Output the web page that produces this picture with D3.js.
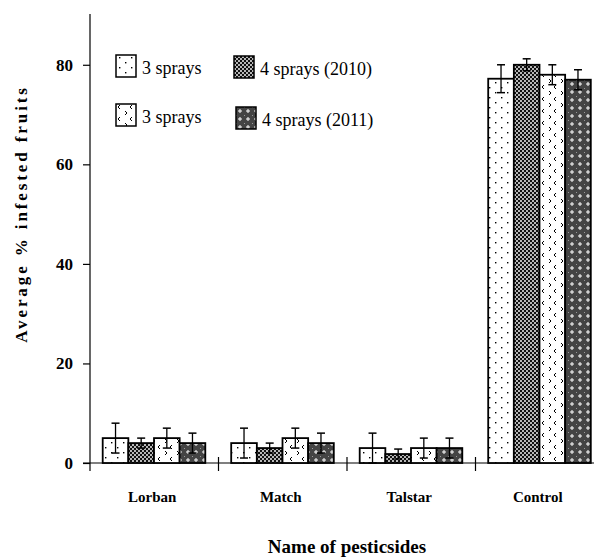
<!DOCTYPE html>
<html>
<head>
<meta charset="utf-8">
<script src="https://cdn.jsdelivr.net/npm/d3@7"></script>
<style>
  body { margin: 0; background: #fff; }
</style>
</head>
<body>
<div id="chart-area"></div>
<script>
// dados
const categories = ["Lorban", "Match", "Talstar", "Control"]
const seriesNames = ["3 sprays", "4 sprays (2010)", "3 sprays", "4 sprays (2011)"]
const means = [
  [5, 4, 3, 77.2],
  [4, 3, 1.8, 80],
  [5, 5, 3, 78],
  [4, 4, 3, 77]
]
const errors = [
  [3, 3, 3, 2.8],
  [1, 1, 1, 1.2],
  [2, 2, 2, 2],
  [2, 2, 2, 2]
]
const yTicks = [0, 20, 40, 60, 80]
const patternIds = ["p-dots", "p-cross", "p-chev", "p-plus"]

const FONT = "Liberation Serif, DejaVu Serif"
const W = 594, H = 557
const svg = d3.select("#chart-area").append("svg")
  .attr("width", W)
  .attr("height", H)
  .style("font-family", FONT)

// padrões de preenchimento
const defs = svg.append("defs")

const pDots = defs.append("pattern").attr("id", "p-dots")
  .attr("patternUnits", "userSpaceOnUse").attr("width", 12).attr("height", 10)
pDots.append("rect").attr("width", 12).attr("height", 10).attr("fill", "#fff")
pDots.append("rect").attr("x", 3).attr("y", 2).attr("width", 1.4).attr("height", 1.4).attr("fill", "#000")
pDots.append("rect").attr("x", 9).attr("y", 7).attr("width", 1.4).attr("height", 1.4).attr("fill", "#000")

const pCross = defs.append("pattern").attr("id", "p-cross")
  .attr("patternUnits", "userSpaceOnUse").attr("width", 4).attr("height", 4)
pCross.append("rect").attr("width", 4).attr("height", 4).attr("fill", "#111")
pCross.append("circle").attr("cx", 1).attr("cy", 1).attr("r", 0.95).attr("fill", "#fff")
pCross.append("circle").attr("cx", 3).attr("cy", 3).attr("r", 0.95).attr("fill", "#fff")

const pChev = defs.append("pattern").attr("id", "p-chev")
  .attr("patternUnits", "userSpaceOnUse").attr("width", 12).attr("height", 12)
pChev.append("rect").attr("width", 12).attr("height", 12).attr("fill", "#fff")
pChev.append("path").attr("d", "M4,1 L2,3 L4,5 M9,7 L11,9 L9,11")
  .attr("fill", "none").attr("stroke", "#000").attr("stroke-width", 1)

const pPlus = defs.append("pattern").attr("id", "p-plus")
  .attr("patternUnits", "userSpaceOnUse").attr("width", 8).attr("height", 8)
pPlus.append("rect").attr("width", 8).attr("height", 8).attr("fill", "#444")
pPlus.append("rect").attr("x", 0).attr("y", 0).attr("width", 1).attr("height", 1).attr("fill", "#999")
pPlus.append("path").attr("d", "M4,2 V6 M2,4 H6")
  .attr("stroke", "#fff").attr("stroke-width", 1)

// escalas
const x = d3.scaleBand()
  .domain(categories)
  .range([90, 604])
  .padding(0)

const xs = d3.scaleBand()
  .domain(d3.range(seriesNames.length))
  .range([12.7, 115.3])
  .padding(0)

const y = d3.scaleLinear()
  .domain([0, 90])
  .range([463, 15])

// eixo Y
const yAxis = svg.append("g")
  .attr("transform", "translate(90,0)")
  .call(d3.axisLeft(y).tickValues(yTicks).tickSize(7).tickPadding(10))
  .attr("font-family", null)
yAxis.select(".domain").remove()
yAxis.selectAll("line").attr("stroke", "#000").attr("stroke-width", 1.2)
yAxis.selectAll("text")
  .attr("font-size", "17px")
  .attr("font-weight", "bold")
  .attr("fill", "#000")

svg.append("line")
  .attr("x1", 90).attr("x2", 90)
  .attr("y1", 14).attr("y2", 471)
  .attr("stroke", "#000").attr("stroke-width", 1.2)

// eixo X
svg.append("line")
  .attr("x1", 83).attr("x2", W)
  .attr("y1", y(0)).attr("y2", y(0))
  .attr("stroke", "#000").attr("stroke-width", 1.2)

svg.selectAll(".xtick")
  .data(categories.slice(1))
  .enter().append("line")
  .attr("class", "xtick")
  .attr("x1", d => x(d)).attr("x2", d => x(d))
  .attr("y1", y(0) - 6).attr("y2", y(0) + 8)
  .attr("stroke", "#000").attr("stroke-width", 1.2)

svg.selectAll(".xlabel")
  .data(categories)
  .enter().append("text")
  .attr("class", "xlabel")
  .attr("x", d => x(d) + x.bandwidth() / 2 - 2)
  .attr("y", 502)
  .attr("text-anchor", "middle")
  .attr("font-size", "15px")
  .attr("font-weight", "bold")
  .text(d => d)

// títulos
svg.append("text")
  .attr("x", 347)
  .attr("y", 553)
  .attr("text-anchor", "middle")
  .attr("font-size", "19px")
  .attr("font-weight", "bold")
  .text("Name of pesticsides")

svg.append("text")
  .attr("transform", "translate(27,214) rotate(-90)")
  .attr("text-anchor", "middle")
  .attr("font-size", "17px")
  .attr("font-weight", "bold")
  .attr("letter-spacing", "2.9px")
  .text("Average % infested fruits")

// barras
const rows = []
means.forEach((vals, s) => {
  vals.forEach((v, c) => {
    rows.push({ s: s, cat: categories[c], v: v, e: errors[s][c] })
  })
})

svg.selectAll(".bar")
  .data(rows)
  .enter().append("rect")
  .attr("class", "bar")
  .attr("x", d => x(d.cat) + xs(d.s))
  .attr("y", d => y(d.v))
  .attr("width", xs.bandwidth())
  .attr("height", d => y(0) - y(d.v))
  .attr("fill", d => `url(#${patternIds[d.s]})`)
  .attr("stroke", "#000")
  .attr("stroke-width", 1.8)

// barras de erro
const eb = svg.selectAll(".err")
  .data(rows)
  .enter().append("g")
  .attr("class", "err")
  .attr("transform", d => `translate(${x(d.cat) + xs(d.s) + xs.bandwidth() / 2},0)`)
eb.append("line")
  .attr("y1", d => y(d.v + d.e)).attr("y2", d => y(Math.max(0, d.v - d.e)))
  .attr("stroke", "#000").attr("stroke-width", 1.3)
eb.append("line")
  .attr("x1", -4).attr("x2", 4)
  .attr("y1", d => y(d.v + d.e)).attr("y2", d => y(d.v + d.e))
  .attr("stroke", "#000").attr("stroke-width", 1.5)
eb.append("line")
  .attr("x1", -4).attr("x2", 4)
  .attr("y1", d => y(Math.max(0, d.v - d.e))).attr("y2", d => y(Math.max(0, d.v - d.e)))
  .attr("stroke", "#000").attr("stroke-width", 1.5)

// legenda
const legX = [116, 234, 116, 236]
const legY = [55, 56, 104, 107]
const leg = svg.selectAll(".leg")
  .data(seriesNames)
  .enter().append("g")
  .attr("class", "leg")
  .attr("transform", (d, i) => `translate(${legX[i]},${legY[i]})`)
leg.append("rect")
  .attr("width", 20).attr("height", 22)
  .attr("fill", (d, i) => `url(#${patternIds[i]})`)
  .attr("stroke", "#000").attr("stroke-width", 1.5)
leg.append("text")
  .attr("x", 26).attr("y", 19)
  .attr("font-size", "18px")
  .text(d => d)
</script>
</body>
</html>
